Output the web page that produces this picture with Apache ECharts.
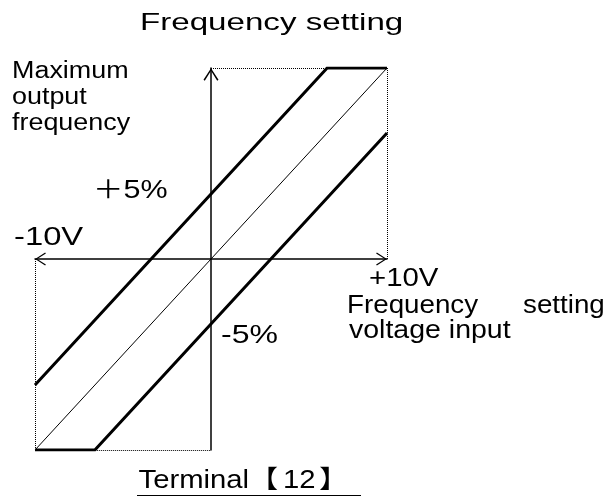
<!DOCTYPE html>
<html>
<head>
<meta charset="utf-8">
<script src="https://cdn.jsdelivr.net/npm/echarts/dist/echarts.min.js"></script>
<style>
  html, body { margin: 0; padding: 0; background: #fff; }
  #chart { width: 614px; height: 497px; }
</style>
</head>
<body>
<div id="chart"></div>
<script>
// Terminal [12] input: voltage (V) vs output frequency (% of maximum)
const voltRange = [-10, 10];
const freqRange = [-100, 100];

// reference gain line (no bias)
const gainVolts = [-10, 10];
const gainFreq = [-100, 100];

// positive bias line, clamped at the maximum output frequency
const plusBiasVolts = [-10, 6.6, 10];
const plusBiasFreq = [-66, 100, 100];

// negative bias line, clamped at the negative maximum
const minusBiasVolts = [-10, -6.6, 10];
const minusBiasFreq = [-100, -100, 66];

const pairs = (xs, ys) => xs.map((x, i) => [x, ys[i]]);

const FONT = '"Liberation Sans", Arial, "Noto Sans CJK JP", sans-serif';
// open chevron arrow head (points up; ECharts rotates it along the axis)
const chevron = 'path://M7,0 L14,10.8 L12.8,11.6 L7,2.2 L1.2,11.6 L0,10.8 Z';

const chart = echarts.init(document.getElementById('chart'), null, { renderer: 'canvas' });

// wide-set label: font size, horizontal stretch
const txt = (text, x, y, size, sx, rich) => ({
  type: 'text', x, y, scaleX: sx, originX: 0, originY: 0, silent: true,
  style: { text, x: 0, y: 0, font: `${size}px ${FONT}`, fill: '#000', align: 'left', verticalAlign: 'top', rich }
});

chart.setOption({
  animation: false,
  backgroundColor: '#fff',
  grid: { left: 35, right: 227, top: 68, bottom: 47, containLabel: false },
  xAxis: {
    type: 'value', min: voltRange[0], max: voltRange[1],
    axisLine: {
      onZero: true,
      lineStyle: { color: '#000', width: 1.5 },
      symbol: [chevron, chevron], symbolSize: [13, 11], symbolOffset: [5.5, -5.5]
    },
    axisTick: { show: false }, axisLabel: { show: false }, splitLine: { show: false }
  },
  yAxis: {
    type: 'value', min: freqRange[0], max: freqRange[1],
    axisLine: {
      onZero: true,
      lineStyle: { color: '#000', width: 1.5 },
      symbol: ['none', chevron], symbolSize: [15, 13], symbolOffset: [0, -6.5]
    },
    axisTick: { show: false }, axisLabel: { show: false }, splitLine: { show: false }
  },
  series: [
    {
      type: 'line', data: pairs(gainVolts, gainFreq), showSymbol: false, silent: true,
      lineStyle: { color: '#000', width: 1 },
      markLine: {
        silent: true, symbol: 'none', label: { show: false },
        lineStyle: { color: '#000', width: 1, type: [1, 1] },
        data: [
          [{ coord: [0, freqRange[1]] }, { coord: [plusBiasVolts[1], freqRange[1]] }],
          [{ coord: [voltRange[1], freqRange[1]] }, { coord: [voltRange[1], 0] }],
          [{ coord: [voltRange[0], 0] }, { coord: [voltRange[0], freqRange[0]] }],
          [{ coord: [minusBiasVolts[1], freqRange[0]] }, { coord: [0, freqRange[0]] }]
        ]
      }
    },
    {
      type: 'line', data: pairs(plusBiasVolts, plusBiasFreq), showSymbol: false, silent: true,
      lineStyle: { color: '#000', width: 3, cap: 'butt', join: 'miter' }
    },
    {
      type: 'line', data: pairs(minusBiasVolts, minusBiasFreq), showSymbol: false, silent: true,
      lineStyle: { color: '#000', width: 3, cap: 'butt', join: 'miter' }
    }
  ],
  graphic: [
    txt('Frequency setting', 140, 11.7, 24, 1.38),
    txt('Maximum', 12, 60.5, 23, 1.17),
    txt('output', 12, 86.5, 23, 1.17),
    txt('frequency', 12, 112.5, 23, 1.17),
    txt('＋5%', 93, 178.8, 25, 1.22),
    txt('-10V', 14, 225, 26, 1.26),
    txt('+10V', 369, 266, 26, 1.13),
    txt('Frequency', 347, 293.8, 25, 1.11),
    txt('setting', 523, 293.8, 25, 1.11),
    txt('voltage input', 349, 318.8, 25, 1.14),
    txt('-5%', 221, 323.5, 25, 1.28),
    txt('{t|Terminal}{t|【}{n|12}{t|】}', 138.5, 468.8, 25, 1.17, {
      t: { font: `25px ${FONT}` },
      n: { font: `25px ${FONT}`, padding: [0, 3, 0, 4] }
    }),
    { type: 'line', silent: true, shape: { x1: 137, y1: 495.5, x2: 361, y2: 495.5 }, style: { stroke: '#000', lineWidth: 1.2 } }
  ]
});
</script>
</body>
</html>
